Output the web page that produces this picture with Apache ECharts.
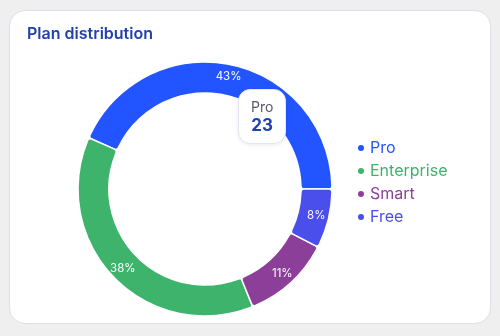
<!DOCTYPE html>
<html>
<head>
<meta charset="utf-8">
<script src="https://cdn.jsdelivr.net/npm/echarts@6/dist/echarts.min.js"></script>
<style>
  html, body { margin:0; padding:0; background:#efefef; width:500px; height:336px; overflow:hidden; }
  #card { position:absolute; left:9px; top:10px; width:482px; height:314px; background:#fff; border:1px solid #dcdfec; border-radius:16px; box-sizing:border-box; }
  #chart { position:absolute; left:0; top:0; width:500px; height:336px; }
</style>
</head>
<body>
<div id="card"></div>
<div id="chart"></div>
<script>
const categories = ['Pro', 'Enterprise', 'Smart', 'Free'];
const values = [23, 20, 6, 4];
const colors = ['#2255FF', '#3DB36B', '#8B3F99', '#4A4EEA'];

const chart = echarts.init(document.getElementById('chart'), null, { renderer: 'canvas' });
const font = 'Inter, "Noto Sans", sans-serif';

chart.setOption({
  animation: false,
  title: {
    text: 'Plan distribution', left: 27, top: 26, padding: 0,
    textStyle: { fontFamily: font, fontSize: 16, fontWeight: 600, color: '#2240AE' }
  },
  tooltip: {
    trigger: 'item',
    alwaysShowContent: true,
    position: function () { return [238, 89]; },
    backgroundColor: '#fff',
    borderColor: '#e3e5ef',
    borderWidth: 1,
    padding: [8, 12],
    extraCssText: 'border-radius:12px; box-shadow:0 1px 4px rgba(0,0,0,0.08); text-align:center;',
    formatter: function (p) {
      return '<div style="font-family:Inter,sans-serif;font-size:14px;color:#555a6a;line-height:17px;">' + p.name + '</div>' +
             '<div style="font-family:Inter,sans-serif;font-size:17px;font-weight:bold;color:#2240AE;line-height:20px;">' + p.value + '</div>';
    }
  },
  legend: {
    orient: 'vertical', left: 351, top: 135,
    icon: 'circle', itemWidth: 8, itemHeight: 8, itemGap: 7,
    data: categories.map((c, i) => ({ name: c, textStyle: { color: colors[i] } })),
    textStyle: { fontFamily: font, fontSize: 16 }
  },
  series: [{
    type: 'pie',
    center: [205, 189],
    radius: [96, 127],
    startAngle: 0,
    clockwise: false,
    percentPrecision: 0,
    data: categories.map((c, i) => ({
      name: c, value: values[i],
      itemStyle: { color: colors[i] }
    })),
    itemStyle: { borderColor: '#fff', borderWidth: 1.5, borderRadius: 3 },
    label: {
      show: true, position: 'inside', formatter: '{d}%',
      color: '#fff', fontFamily: font, fontSize: 11.5
    },
    labelLine: { show: false },
    emphasis: { scale: false }
  }]
});

chart.dispatchAction({ type: 'showTip', seriesIndex: 0, dataIndex: 0 });
</script>
</body>
</html>
